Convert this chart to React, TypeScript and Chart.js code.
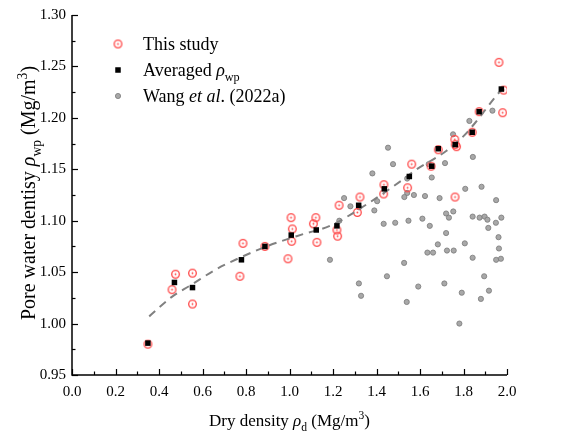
import React, { useEffect, useRef } from 'react';
import { Chart, registerables } from 'chart.js';

Chart.register(...registerables);

// ---------- data ----------
const studyX = [0.349, 0.476, 0.460, 0.554, 0.554, 0.786, 0.772, 0.887, 1.007, 1.013, 1.010, 0.993,
  1.121, 1.110, 1.126, 1.228, 1.218, 1.221, 1.324, 1.312, 1.434, 1.433, 1.562, 1.543, 1.651, 1.684,
  1.761, 1.762, 1.768, 1.760, 1.840, 1.872, 1.963, 1.985, 1.980];
const studyY = [0.980, 1.048, 1.033, 1.049, 1.019, 1.078, 1.046, 1.075, 1.103, 1.092, 1.080, 1.063,
  1.103, 1.097, 1.079, 1.115, 1.091, 1.085, 1.123, 1.108, 1.135, 1.126, 1.155, 1.132, 1.153, 1.169,
  1.123, 1.174, 1.172, 1.179, 1.186, 1.206, 1.254, 1.227, 1.205];

const avgX = [0.349, 0.471, 0.554, 0.779, 0.887, 1.008, 1.123, 1.218, 1.318, 1.436, 1.551, 1.654,
  1.684, 1.762, 1.840, 1.872, 1.974];
const avgY = [0.981, 1.040, 1.035, 1.062, 1.075, 1.086, 1.091, 1.095, 1.115, 1.131, 1.143, 1.153,
  1.170, 1.174, 1.186, 1.206, 1.228];

const fitX = [0.355, 0.459, 0.543, 0.665, 0.772, 0.894, 1.063, 1.186, 1.370, 1.508, 1.585, 1.722,
  1.799, 1.853, 1.945, 1.977];
const fitY = [1.007, 1.026, 1.037, 1.053, 1.064, 1.075, 1.087, 1.095, 1.118, 1.138, 1.150, 1.168,
  1.182, 1.195, 1.220, 1.228];

const wangX = [1.827, 1.752, 1.453, 1.843, 1.476, 1.715, 1.640, 1.381, 1.654, 1.541, 1.808, 1.883,
  1.541, 1.528, 1.572, 1.623, 1.690, 1.950, 1.251, 1.280, 1.403, 1.320, 1.390, 1.229, 1.753, 1.720,
  1.733, 1.842, 1.874, 1.897, 1.910, 1.974, 1.949, 1.433, 1.486, 1.547, 1.611, 1.645, 1.914, 1.720,
  1.961, 1.682, 1.806, 1.634, 1.660, 1.724, 1.755, 1.963, 1.842, 1.950, 1.972, 1.186, 1.527, 1.448,
  1.895, 1.319, 1.712, 1.592, 1.792, 1.917, 1.329, 1.880, 1.539, 1.781, 1.933];
const wangY = [1.197, 1.184, 1.171, 1.162, 1.155, 1.156, 1.155, 1.146, 1.142, 1.141, 1.131, 1.133,
  1.127, 1.123, 1.125, 1.124, 1.122, 1.120, 1.122, 1.114, 1.119, 1.113, 1.110, 1.100, 1.109, 1.107,
  1.103, 1.104, 1.103, 1.104, 1.101, 1.103, 1.098, 1.097, 1.098, 1.100, 1.102, 1.095, 1.093, 1.088,
  1.084, 1.077, 1.078, 1.069, 1.069, 1.071, 1.071, 1.073, 1.064, 1.062, 1.063, 1.062, 1.059, 1.046,
  1.046, 1.039, 1.039, 1.036, 1.030, 1.032, 1.027, 1.024, 1.021, 1.000, 1.207];

const X_MIN = 0, X_MAX = 2.0, X_STEP = 0.2;
const Y_MIN = 0.95, Y_MAX = 1.30, Y_STEP = 0.05;

const SERIF = "'Liberation Serif', 'Times New Roman', serif";
const RED = 'rgb(255,70,70)';

type Part = { t: string; italic?: boolean; sub?: boolean; sup?: boolean };

function partFont(p: Part, size: number) {
  const s = p.sub || p.sup ? size * 0.68 : size;
  return `${p.italic ? 'italic ' : ''}${s}px ${SERIF}`;
}
function measureParts(ctx: CanvasRenderingContext2D, parts: Part[], size: number) {
  let w = 0;
  for (const p of parts) { ctx.font = partFont(p, size); w += ctx.measureText(p.t).width; }
  return w;
}
function drawParts(ctx: CanvasRenderingContext2D, parts: Part[], x: number, y: number, size: number) {
  let cx = x;
  for (const p of parts) {
    ctx.font = partFont(p, size);
    const dy = p.sub ? size * 0.28 : p.sup ? -size * 0.4 : 0;
    ctx.fillText(p.t, cx, y + dy);
    cx += ctx.measureText(p.t).width;
  }
}

function makeRing(): HTMLCanvasElement {
  const c = document.createElement('canvas');
  c.width = 11; c.height = 11;
  const g = c.getContext('2d')!;
  g.strokeStyle = RED; g.lineWidth = 1.3;
  g.beginPath(); g.arc(5.5, 5.5, 3.8, 0, Math.PI * 2); g.stroke();
  g.fillStyle = RED;
  g.beginPath(); g.arc(5.5, 5.5, 0.9, 0, Math.PI * 2); g.fill();
  return c;
}

const decor = (ring: HTMLCanvasElement) => ({
  id: 'decor',
  beforeDatasetsDraw(chart: any) {
    const { ctx, chartArea: { left, right, top, bottom }, scales: { x, y } } = chart;
    ctx.save();
    ctx.strokeStyle = '#000';
    ctx.lineWidth = 1.5;
    ctx.beginPath();
    ctx.moveTo(left, top); ctx.lineTo(left, bottom); ctx.lineTo(right, bottom);
    ctx.stroke();
    ctx.lineWidth = 1.2;
    const nx = Math.round((X_MAX - X_MIN) / (X_STEP / 2));
    for (let i = 0; i <= nx; i++) {
      const px = Math.round(x.getPixelForValue(X_MIN + i * X_STEP / 2)) + 0.5;
      const len = i % 2 === 0 ? 6 : 3.5;
      ctx.beginPath(); ctx.moveTo(px, bottom); ctx.lineTo(px, bottom - len); ctx.stroke();
    }
    const ny = Math.round((Y_MAX - Y_MIN) / (Y_STEP / 2));
    for (let i = 0; i <= ny; i++) {
      const py = Math.round(y.getPixelForValue(Y_MIN + i * Y_STEP / 2)) + 0.5;
      const len = i % 2 === 0 ? 6 : 3.5;
      ctx.beginPath(); ctx.moveTo(left, py); ctx.lineTo(left + len, py); ctx.stroke();
    }
    ctx.restore();
  },
  afterDraw(chart: any) {
    const { ctx, chartArea: { left, right, top, bottom } } = chart;
    ctx.save();
    ctx.fillStyle = '#000';
    ctx.textBaseline = 'alphabetic';
    // legend
    const lx = 118, tx = 143, fs = 18;
    const rows = [44, 70, 96];
    ctx.drawImage(ring, lx - 5.5, rows[0] - 5.5);
    ctx.fillStyle = '#000';
    ctx.fillRect(lx - 2.75, rows[1] - 2.75, 5.5, 5.5);
    ctx.beginPath(); ctx.arc(lx, rows[2], 2.6, 0, Math.PI * 2);
    ctx.fillStyle = '#a8a8a8'; ctx.fill();
    ctx.strokeStyle = '#7a7a7a'; ctx.lineWidth = 0.8; ctx.stroke();
    ctx.fillStyle = '#000';
    drawParts(ctx, [{ t: 'This study' }], tx, rows[0] + 6, fs);
    drawParts(ctx, [{ t: 'Averaged ' }, { t: 'ρ', italic: true }, { t: 'wp', sub: true }], tx, rows[1] + 6, fs);
    drawParts(ctx, [{ t: 'Wang ' }, { t: 'et al', italic: true }, { t: '. (2022a)' }], tx, rows[2] + 6, fs);

    // x title
    const ts = 17;
    const xParts: Part[] = [{ t: 'Dry density ' }, { t: 'ρ', italic: true }, { t: 'd', sub: true }, { t: ' (Mg/m' }, { t: '3', sup: true }, { t: ')' }];
    const xw = measureParts(ctx, xParts, ts);
    drawParts(ctx, xParts, (left + right) / 2 - xw / 2, 426, ts);

    // y title
    const ys = 20;
    const yParts: Part[] = [{ t: 'Pore water dentisy ' }, { t: 'ρ', italic: true }, { t: 'wp', sub: true }, { t: ' (Mg/m' }, { t: '3', sup: true }, { t: ')' }];
    const yw = measureParts(ctx, yParts, ys);
    ctx.translate(35, (top + bottom) / 2 - 2);
    ctx.rotate(-Math.PI / 2);
    drawParts(ctx, yParts, -yw / 2, 0, ys);
    ctx.restore();
  },
});

export default function App() {
  const ref = useRef<HTMLCanvasElement>(null);
  useEffect(() => {
    document.body.style.margin = '0';
    const ring = makeRing();
    const pts = (xs: number[], ys: number[]) => xs.map((v, i) => ({ x: v, y: ys[i] }));
    const chart = new Chart(ref.current!, {
      type: 'scatter',
      data: {
        datasets: [
          {
            label: 'Averaged',
            data: pts(avgX, avgY),
            pointStyle: 'rect',
            pointRadius: 3.9,
            backgroundColor: '#000',
            borderColor: '#000',
            borderWidth: 0,
            order: 0,
          } as any,
          {
            type: 'line',
            label: 'fit',
            data: pts(fitX, fitY),
            showLine: true,
            borderColor: 'rgb(128,128,128)',
            borderWidth: 2,
            borderDash: [8, 6],
            pointRadius: 0,
            fill: false,
            cubicInterpolationMode: 'monotone',
            order: 1,
          } as any,
          {
            label: 'This study',
            data: pts(studyX, studyY),
            pointStyle: ring,
            pointRadius: 5,
            order: 2,
          } as any,
          {
            label: 'Wang',
            data: pts(wangX, wangY),
            pointStyle: 'circle',
            pointRadius: 2.6,
            backgroundColor: '#a8a8a8',
            borderColor: '#7a7a7a',
            borderWidth: 0.8,
            order: 3,
          } as any,
        ],
      },
      options: {
        animation: false,
        responsive: false,
        devicePixelRatio: 1,
        layout: { padding: { left: 0, right: 63, top: 15, bottom: 0 } },
        plugins: { legend: { display: false }, tooltip: { enabled: false } },
        scales: {
          x: {
            type: 'linear',
            min: X_MIN, max: X_MAX,
            grid: { display: false, drawTicks: false, tickLength: 0 },
            border: { display: false },
            ticks: {
              stepSize: X_STEP, autoSkip: false, maxRotation: 0, padding: 8,
              color: '#000', font: { family: SERIF, size: 15 },
              callback: (v: any) => Number(v).toFixed(1),
            },
            afterFit: (s: any) => { s.height = 57; },
          },
          y: {
            type: 'linear',
            min: Y_MIN, max: Y_MAX,
            grid: { display: false, drawTicks: false, tickLength: 0 },
            border: { display: false },
            ticks: {
              stepSize: Y_STEP, autoSkip: false, padding: 6,
              color: '#000', font: { family: SERIF, size: 15 },
              callback: (v: any) => Number(v).toFixed(2),
            },
            afterFit: (s: any) => { s.width = 72; },
          },
        },
      },
      plugins: [decor(ring)],
    });
    return () => chart.destroy();
  }, []);
  return (
    <div style={{ width: 570, height: 432 }}>
      <canvas ref={ref} width={570} height={432} style={{ display: 'block' }} />
    </div>
  );
}
